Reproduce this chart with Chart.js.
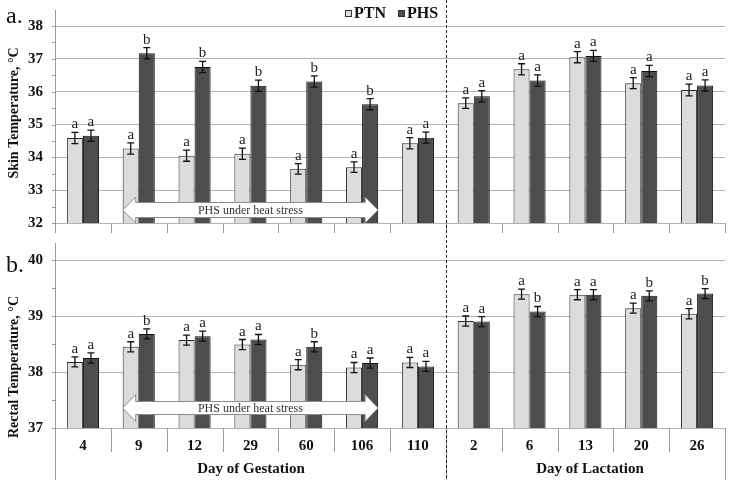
<!DOCTYPE html>
<html>
<head>
<meta charset="utf-8">
<script src="https://cdn.jsdelivr.net/npm/chart.js@4.4.1/dist/chart.umd.min.js"></script>
<style>
  html, body { margin: 0; padding: 0; background: #fff; }
  #wrap { position: relative; width: 729px; height: 480px; }
  .panel { position: absolute; left: 0; width: 729px; height: 240px; }
</style>
</head>
<body>
<div id="wrap">
  <div class="panel" style="top:0"><canvas id="skinChart" width="729" height="240"></canvas></div>
  <div class="panel" style="top:240px"><canvas id="rectalChart" width="729" height="240"></canvas></div>
</div>
<script>
const days = ["4", "9", "12", "29", "60", "106", "110", "2", "6", "13", "20", "26"];

// skin temperature, °C
const skinPTN = [34.59, 34.27, 34.05, 34.11, 33.65, 33.70, 34.43, 35.65, 36.68, 37.05, 36.26, 36.05];
const skinPHS = [34.66, 37.17, 36.75, 36.18, 36.31, 35.62, 34.60, 35.86, 36.34, 37.09, 36.63, 36.19];
const skinErrPTN = [0.17, 0.17, 0.17, 0.17, 0.16, 0.16, 0.17, 0.16, 0.17, 0.17, 0.17, 0.18];
const skinErrPHS = [0.17, 0.17, 0.17, 0.17, 0.17, 0.17, 0.17, 0.17, 0.17, 0.17, 0.17, 0.17];
const skinLetPTN = ["a", "a", "a", "a", "a", "a", "a", "a", "a", "a", "a", "a"];
const skinLetPHS = ["a", "b", "b", "b", "b", "b", "a", "a", "a", "a", "a", "a"];

// rectal temperature, °C
const rectalPTN = [38.18, 38.45, 38.57, 38.49, 38.13, 38.08, 38.17, 38.91, 39.39, 39.38, 39.14, 39.04];
const rectalPHS = [38.25, 38.68, 38.64, 38.58, 38.45, 38.16, 38.10, 38.90, 39.08, 39.38, 39.36, 39.40];
const rectalErrPTN = [0.09, 0.09, 0.09, 0.09, 0.09, 0.09, 0.09, 0.09, 0.09, 0.09, 0.09, 0.09];
const rectalErrPHS = [0.09, 0.09, 0.09, 0.09, 0.09, 0.09, 0.09, 0.09, 0.09, 0.09, 0.09, 0.09];
const rectalLetPTN = ["a", "a", "a", "a", "a", "a", "a", "a", "a", "a", "a", "a"];
const rectalLetPHS = ["a", "b", "a", "a", "b", "a", "a", "a", "b", "a", "b", "b"];

const FONT = "'Liberation Serif', 'Times New Roman', serif";
const PTN_FILL = "#dcdcdc";
const PHS_FILL = "#4d4d4d";

// error bars, letters, arrow, axis lines and the other Excel-ish bits
const panelExtras = {
  id: "panelExtras",
  afterDatasetsDraw(chart, args, opts) {
    const ctx = chart.ctx;
    const y = chart.scales.y;
    ctx.save();

    chart.data.datasets.forEach((ds, di) => {
      const meta = chart.getDatasetMeta(di);
      meta.data.forEach((bar, i) => {
        const v = ds.data[i];
        const e = opts.errors[di][i];
        const top = y.getPixelForValue(v + e);
        const bot = y.getPixelForValue(v - e);
        ctx.strokeStyle = "#111";
        ctx.lineWidth = 1.3;
        ctx.beginPath();
        ctx.moveTo(bar.x, top); ctx.lineTo(bar.x, bot);
        ctx.moveTo(bar.x - 3.5, top); ctx.lineTo(bar.x + 3.5, top);
        ctx.moveTo(bar.x - 3.5, bot); ctx.lineTo(bar.x + 3.5, bot);
        ctx.stroke();
        ctx.fillStyle = "#222";
        ctx.font = "15px " + FONT;
        ctx.textAlign = "center";
        ctx.textBaseline = "alphabetic";
        ctx.fillText(opts.letters[di][i], bar.x, top - 4);
      });
    });

    // "PHS under heat stress" arrow
    const b0 = chart.getDatasetMeta(0).data[1];
    const b1 = chart.getDatasetMeta(1).data[5];
    const xl = b0.x - b0.width / 2;
    const xr = b1.x + b1.width / 2;
    const cy = opts.arrowY, hh = opts.arrowHead, sh = opts.arrowShaft, hl = 13;
    ctx.beginPath();
    ctx.moveTo(xl, cy);
    ctx.lineTo(xl + hl, cy - hh);
    ctx.lineTo(xl + hl, cy - sh);
    ctx.lineTo(xr - hl, cy - sh);
    ctx.lineTo(xr - hl, cy - hh);
    ctx.lineTo(xr, cy);
    ctx.lineTo(xr - hl, cy + hh);
    ctx.lineTo(xr - hl, cy + sh);
    ctx.lineTo(xl + hl, cy + sh);
    ctx.lineTo(xl + hl, cy + hh);
    ctx.closePath();
    ctx.fillStyle = "#fff";
    ctx.fill();
    ctx.strokeStyle = "#8c8c8c";
    ctx.lineWidth = 1;
    ctx.stroke();
    ctx.fillStyle = "#333";
    ctx.font = "12px " + FONT;
    ctx.textAlign = "center";
    ctx.textBaseline = "middle";
    ctx.fillText("PHS under heat stress", (xl + xr) / 2, cy + 1);

    ctx.restore();
  },
  afterDraw(chart, args, opts) {
    const ctx = chart.ctx;
    const x = chart.scales.x, y = chart.scales.y;
    const area = chart.chartArea;
    const H = chart.height;
    ctx.save();

    // y axis line and its ticks
    ctx.strokeStyle = "#9a9a9a";
    ctx.lineWidth = 1;
    ctx.beginPath();
    ctx.moveTo(area.left + 0.5, opts.axisTop);
    ctx.lineTo(area.left + 0.5, opts.axisBottom);
    for (let v = y.min; v <= y.max + 0.01; v += 0.5) {
      const py = Math.round(y.getPixelForValue(v)) + 0.5;
      ctx.moveTo(area.left - 3, py);
      ctx.lineTo(area.left + 1, py);
    }
    // category tick marks
    const n = days.length;
    const bounds = [];
    for (let i = 0; i <= n; i++) {
      const px = i === 0 ? area.left : i === n ? area.right
        : (x.getPixelForValue(i - 1) + x.getPixelForValue(i)) / 2;
      bounds.push(Math.round(px) + 0.5);
    }
    bounds.forEach((bx, i) => {
      const outer = i === 0 || i === 7 || i === n;
      ctx.moveTo(bx, area.bottom);
      ctx.lineTo(bx, outer ? opts.outerBottom : opts.innerBottom);
    });
    ctx.stroke();

    // dashed divider between gestation and lactation
    ctx.strokeStyle = "#222";
    ctx.setLineDash([3, 2]);
    ctx.beginPath();
    ctx.moveTo(bounds[7], 0);
    ctx.lineTo(bounds[7], H);
    ctx.stroke();
    ctx.setLineDash([]);

    // axis title
    ctx.fillStyle = "#111";
    ctx.font = "bold 14px " + FONT;
    ctx.textAlign = "center";
    ctx.textBaseline = "middle";
    ctx.save();
    ctx.translate(14, opts.titleY);
    ctx.rotate(-Math.PI / 2);
    ctx.fillText(opts.title, 0, 0);
    ctx.restore();

    // panel tag
    ctx.font = "24px " + FONT;
    ctx.textAlign = "left";
    ctx.textBaseline = "alphabetic";
    ctx.fillText(opts.tag, 6, opts.tagY);

    // group labels
    if (opts.groups) {
      ctx.font = "bold 15px " + FONT;
      ctx.textAlign = "center";
      ctx.textBaseline = "middle";
      ctx.fillText("Day of Gestation", (bounds[0] + bounds[7]) / 2, opts.groupY);
      ctx.fillText("Day of Lactation", (bounds[7] + bounds[n]) / 2 + 4, opts.groupY);
    }

    // legend
    if (opts.legend) {
      const items = [["PTN", PTN_FILL, 345], ["PHS", PHS_FILL, 398]];
      ctx.font = "bold 16px " + FONT;
      ctx.textAlign = "left";
      ctx.textBaseline = "middle";
      items.forEach(([label, fill, lx]) => {
        ctx.fillStyle = fill;
        ctx.fillRect(lx, 10, 7, 7);
        ctx.strokeStyle = "#333";
        ctx.strokeRect(lx + 0.5, 10.5, 6, 6);
        ctx.fillStyle = "#111";
        ctx.fillText(label, lx + 9, 14);
      });
    }

    ctx.restore();
  }
};

function makeChart(canvasId, ptn, phs, yMin, yMax, extras, xTicks, padTop, xHeight) {
  const ctx = document.getElementById(canvasId).getContext("2d");
  return new Chart(ctx, {
    type: "bar",
    data: {
      labels: days,
      datasets: [
        {
          label: "PTN",
          data: ptn,
          backgroundColor: PTN_FILL,
          borderColor: "#2a2a2a",
          borderWidth: 1,
          barPercentage: 1,
          categoryPercentage: 0.575,
        },
        {
          label: "PHS",
          data: phs,
          backgroundColor: PHS_FILL,
          borderColor: "#111",
          borderWidth: 1,
          barPercentage: 1,
          categoryPercentage: 0.575,
        },
      ],
    },
    options: {
      responsive: false,
      animation: false,
      layout: { padding: { top: padTop, right: 4, left: 0, bottom: 0 } },
      plugins: {
        legend: { display: false },
        tooltip: { enabled: false },
        panelExtras: extras,
      },
      scales: {
        x: {
          grid: { display: false },
          border: { display: false },
          ticks: {
            display: xTicks,
            color: "#111",
            padding: 1,
            maxRotation: 0,
            font: { family: FONT, size: 15, weight: "bold" },
          },
          afterFit: (s) => { s.height = xHeight; },
        },
        y: {
          min: yMin,
          max: yMax,
          border: { display: false },
          grid: { color: "#b3b3b3", drawTicks: false },
          ticks: {
            stepSize: 1,
            color: "#111",
            padding: 12,
            font: { family: FONT, size: 15, weight: "bold" },
          },
          afterFit: (s) => {
            s.width = 55;
            s.paddingTop = 0;
            s.paddingBottom = 0;
          },
        },
      },
    },
    plugins: [panelExtras],
  });
}

makeChart("skinChart", skinPTN, skinPHS, 32, 38, {
  errors: [skinErrPTN, skinErrPHS],
  letters: [skinLetPTN, skinLetPHS],
  arrowY: 210, arrowHead: 13, arrowShaft: 7.5,
  axisTop: 10, axisBottom: 233, innerBottom: 233, outerBottom: 233,
  title: "Skin Temperature, °C", titleY: 113,
  tag: "a.", tagY: 23,
  legend: true, groups: false,
}, false, 26, 17);

makeChart("rectalChart", rectalPTN, rectalPHS, 37, 40, {
  errors: [rectalErrPTN, rectalErrPHS],
  letters: [rectalLetPTN, rectalLetPHS],
  arrowY: 168, arrowHead: 13.5, arrowShaft: 6.5,
  axisTop: 3, axisBottom: 240, innerBottom: 212, outerBottom: 240,
  title: "Rectal Temperature, °C", titleY: 127,
  tag: "b.", tagY: 32,
  legend: false, groups: true, groupY: 229,
}, true, 20, 52);
</script>
</body>
</html>
